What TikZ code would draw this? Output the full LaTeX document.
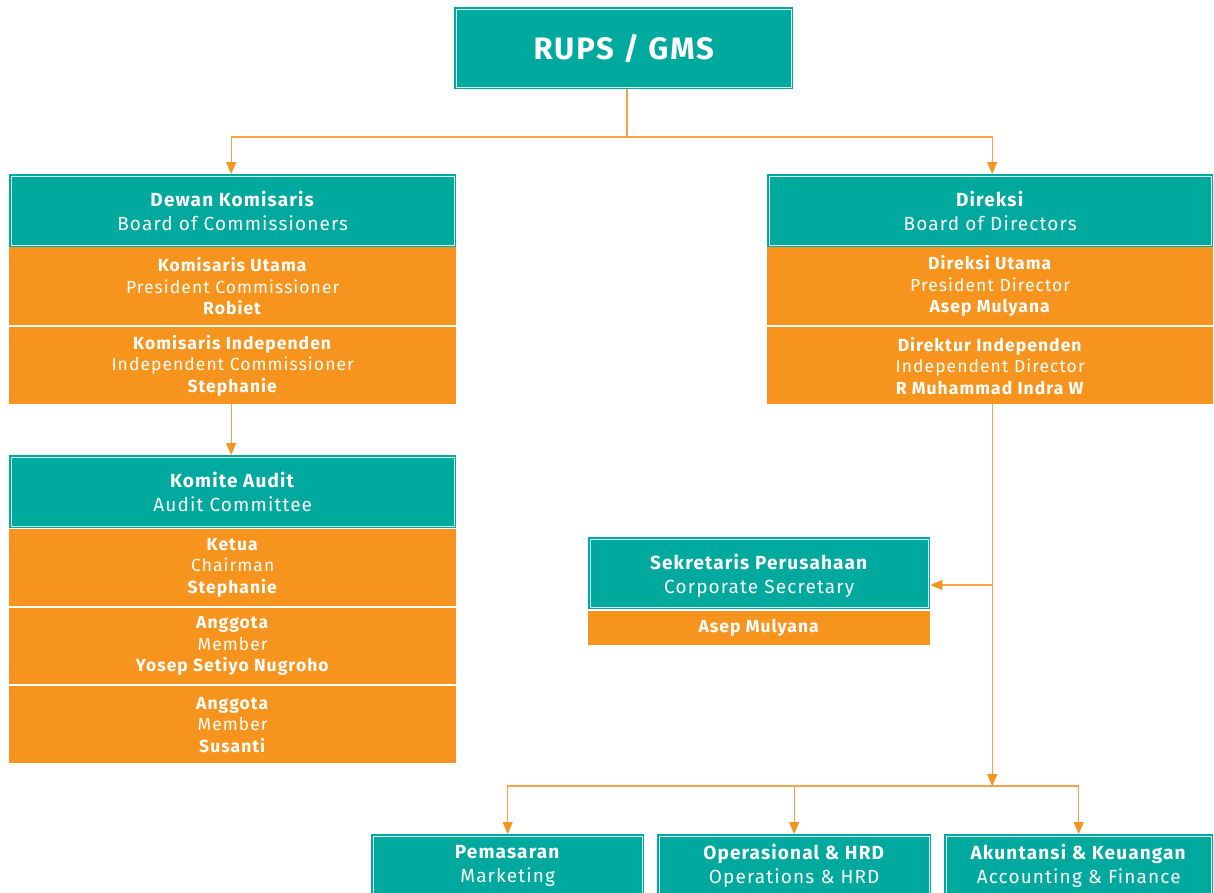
\documentclass[tikz,border=0pt]{standalone}
\usepackage{fontspec}
\setmainfont{Fira Sans}[LetterSpace=6]
\usetikzlibrary{arrows.meta,calc}
\definecolor{tealc}{HTML}{00A99D}
\definecolor{orangec}{HTML}{F7941D}
\definecolor{linec}{HTML}{F8A243}
\begin{document}
\begin{tikzpicture}[x=1pt,y=1pt,
  tealbox/.style={fill=tealc, text=white, align=center, inner sep=0pt, anchor=north west},
  orangebox/.style={fill=orangec, text=white, align=center, inner sep=0pt, anchor=north west},
  frame/.style={draw=white!85!tealc, line width=0.6pt},
  tfont/.style={font=\fontsize{19}{24}\selectfont},
  ofont/.style={font=\fontsize{17.5}{21.5}\selectfont},
  conn/.style={draw=linec, line width=1.2pt},
  arr/.style={conn, -{Triangle[length=12pt,width=10pt,color=orangec]}}
]
\useasboundingbox (0,0) rectangle (1214,-892);
% top
\node[tealbox, minimum width=339, minimum height=82, font=\fontsize{31}{36}\selectfont\bfseries] (rups) at (454,-7) {RUPS / GMS};
% left column
\node[tealbox, tfont, minimum width=447, minimum height=73] (dk) at (9,-174) {\textbf{Dewan Komisaris}\\Board of Commissioners};
\node[orangebox, ofont, minimum width=447, minimum height=78] (dk1) at (9,-247) {\textbf{Komisaris Utama}\\President Commissioner\\\textbf{Robiet}};
\node[orangebox, ofont, minimum width=447, minimum height=77] (dk2) at (9,-327) {\textbf{Komisaris Independen}\\Independent Commissioner\\\textbf{Stephanie}};
\node[tealbox, tfont, minimum width=447, minimum height=73] (ka) at (9,-455) {\textbf{Komite Audit}\\Audit Committee};
\node[orangebox, ofont, minimum width=447, minimum height=77] (ka1) at (9,-529) {\textbf{Ketua}\\Chairman\\\textbf{Stephanie}};
\node[orangebox, ofont, minimum width=447, minimum height=76] (ka2) at (9,-608) {\textbf{Anggota}\\Member\\\textbf{Yosep Setiyo Nugroho}};
\node[orangebox, ofont, minimum width=447, minimum height=77] (ka3) at (9,-686) {\textbf{Anggota}\\Member\\\textbf{Susanti}};
% right column
\node[tealbox, tfont, minimum width=446, minimum height=73] (dir) at (767,-174) {\textbf{Direksi}\\Board of Directors};
\node[orangebox, ofont, minimum width=446, minimum height=78] (dir1) at (767,-247) {\textbf{Direksi Utama}\\President Director\\\textbf{Asep Mulyana}};
\node[orangebox, ofont, minimum width=446, minimum height=77] (dir2) at (767,-327) {\textbf{Direktur Independen}\\Independent Director\\\textbf{R Muhammad Indra W}};
% secretary
\node[tealbox, minimum width=342, minimum height=72] (sek) at (588,-537) {};
\node[tfont, text=white, align=center, inner sep=0pt] (sekt) at ([yshift=-3pt]sek.center) {\textbf{Sekretaris Perusahaan}\\Corporate Secretary};
\node[orangebox, ofont, minimum width=342, minimum height=34] (sek1) at (588,-611) {\textbf{Asep Mulyana}};
% bottom
\node[tealbox, tfont, minimum width=273, minimum height=64] (b1) at (371,-834) {\textbf{Pemasaran}\\Marketing};
\node[tealbox, tfont, minimum width=274, minimum height=64] (b2) at (657,-834) {\textbf{Operasional \& HRD}\\Operations \& HRD};
\node[tealbox, tfont, minimum width=269, minimum height=64] (b3) at (944,-834) {\textbf{Akuntansi \& Keuangan}\\Accounting \& Finance};
% inner white frames of the teal boxes
\foreach \n in {rups,dk,ka,dir,sek,b1,b2,b3}
  \draw[frame] ([shift={(2pt,-2pt)}]\n.north west) rectangle ([shift={(-2pt,2pt)}]\n.south east);
% connectors
\coordinate (j1) at (627,-137);
\draw[conn] (rups.south -| j1) -- (j1);
\draw[arr] (j1) -| ([xshift=-1.5pt]dk.north);
\draw[arr] (j1) -| ([xshift=2pt]dir.north);
\draw[arr] ([xshift=-1.5pt]dk2.south) -- ([xshift=-1.5pt]ka.north);
\coordinate (j2) at ([xshift=2pt]dir2.south |- 0,-786);
\coordinate (j3) at ([xshift=2pt]dir2.south |- 0,-585);
\draw[conn] ([xshift=2pt]dir2.south) -- (j2);
\draw[arr] (j3) -- (sek.east |- j3);
\draw[arr] ([yshift=60pt]j2) -- (j2);
\draw[arr] (j2) -| (b1.north);
\draw[arr] (j2) -| (b2.north);
\draw[arr] (j2) -| (b3.north);
\end{tikzpicture}
\end{document}
